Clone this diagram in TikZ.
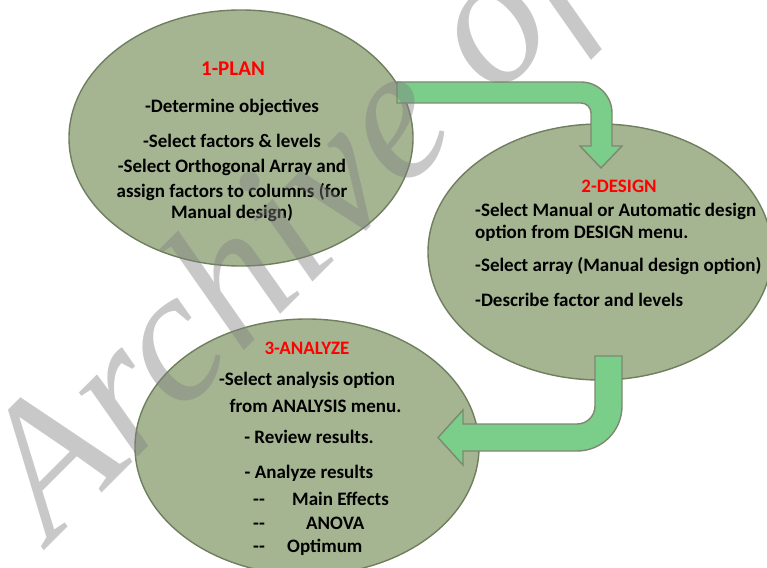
\documentclass[tikz,border=0pt]{standalone}
\usepackage{fontspec}
\setmainfont{Carlito}
\newfontfamily\filigranafont{Liberation Serif}
\usetikzlibrary{shapes.geometric}
\definecolor{bollafill}{HTML}{A5B592}
\definecolor{bollabordo}{HTML}{6F7E5E}
\definecolor{frecciafill}{HTML}{7ACE8A}
\definecolor{frecciabordo}{HTML}{7E8870}
\tikzset{
	% fase del ciclo (ellisse)
	bolla/.style={draw=bollabordo, line width=1.4pt, fill=bollafill, ellipse,
	              minimum width=344pt, minimum height=256pt, inner sep=0pt},
	% freccia piegata tra due fasi
	freccia/.style={draw=frecciabordo, line width=1.4pt, fill=frecciafill, line join=miter},
	% titolo della fase
	titolo/.style={text=red, font=\fontsize{19}{23}\selectfont\bfseries, anchor=base, inner sep=0pt},
	% riga di testo
	voce/.style={font=\fontsize{19}{23}\selectfont\bfseries, anchor=base, inner sep=0pt},
	% filigrana diagonale
	filigrana/.style={rotate=45, anchor=base west, inner sep=0pt, text=black!50, text opacity=0.43,
	                  font=\fontsize{189}{189}\selectfont\filigranafont\itshape},
}

\begin{document}
\begin{tikzpicture}[x=1pt, y=-1pt]
    \useasboundingbox (0,0) rectangle (767,567);
    % le tre fasi
    \node[bolla] (plan)    at (241,138) {};
    \node[bolla] (design)  at (600,252) {};
    \node[bolla] (analyze) at (307,447) {};
    % freccia 1 -> 2
    \draw[freccia] (397,82) -- (581,82) arc[start angle=-90, end angle=0, radius=31]
      -- (612,146) -- (622,146) -- (601,168) -- (580,146) -- (591,146) -- (591,113)
      arc[start angle=0, end angle=-90, radius=10] -- (397,103) -- cycle;
    % freccia 2 -> 3
    \draw[freccia] (595,356) -- (622,356) -- (622,406) arc[start angle=0, end angle=90, radius=45]
      -- (463,451) -- (463,465) -- (438,437.5) -- (463,410) -- (463,424) -- (577,424)
      arc[start angle=90, end angle=0, radius=18] -- cycle;
    % testo 1-PLAN
    \node[titolo, font=\fontsize{21}{25}\selectfont\bfseries] (tplan) at (233,76) {1-PLAN};
    \foreach \t/\y [count=\i] in {{-Determine objectives}/112, {-Select factors \& levels}/147,
        {-Select Orthogonal Array and}/172, {assign factors to columns (for}/197, {Manual design)}/218}
      \node[voce] (p\i) at (232,\y) {\t};
    % testo 2-DESIGN
    \node[titolo] (tdesign) at (619,192) {2-DESIGN};
    \foreach \t/\y [count=\i] in {{-Select Manual or Automatic design}/216, {option from DESIGN menu.}/238,
        {-Select array (Manual design option)}/271, {-Describe factor and levels}/306}
      \node[voce, anchor=base west] (d\i) at (475,\y) {\t};
    % testo 3-ANALYZE
    \node[titolo] (tanalyze) at (307,354) {3-ANALYZE};
    \foreach \t/\x/\y [count=\i] in {{-Select analysis option}/307/385, {from ANALYSIS menu.}/315.5/412,
        {- Review results.}/309/443, {- Analyze results}/309/478}
      \node[voce] (a\i) at (\x,\y) {\t};
    \foreach \t/\x/\y [count=\i] in {{Main Effects}/292/505, {ANOVA}/306/529, {Optimum}/287/552} {
      \node[voce, anchor=base west] (s\i) at (253,\y) {-{}-};
      \node[voce, anchor=base west] (r\i) at (\x,\y) {\t};
    }
    % filigrana
    \node[filigrana] (fil) at (51,544) {Archive of};
\end{tikzpicture}
\end{document}
